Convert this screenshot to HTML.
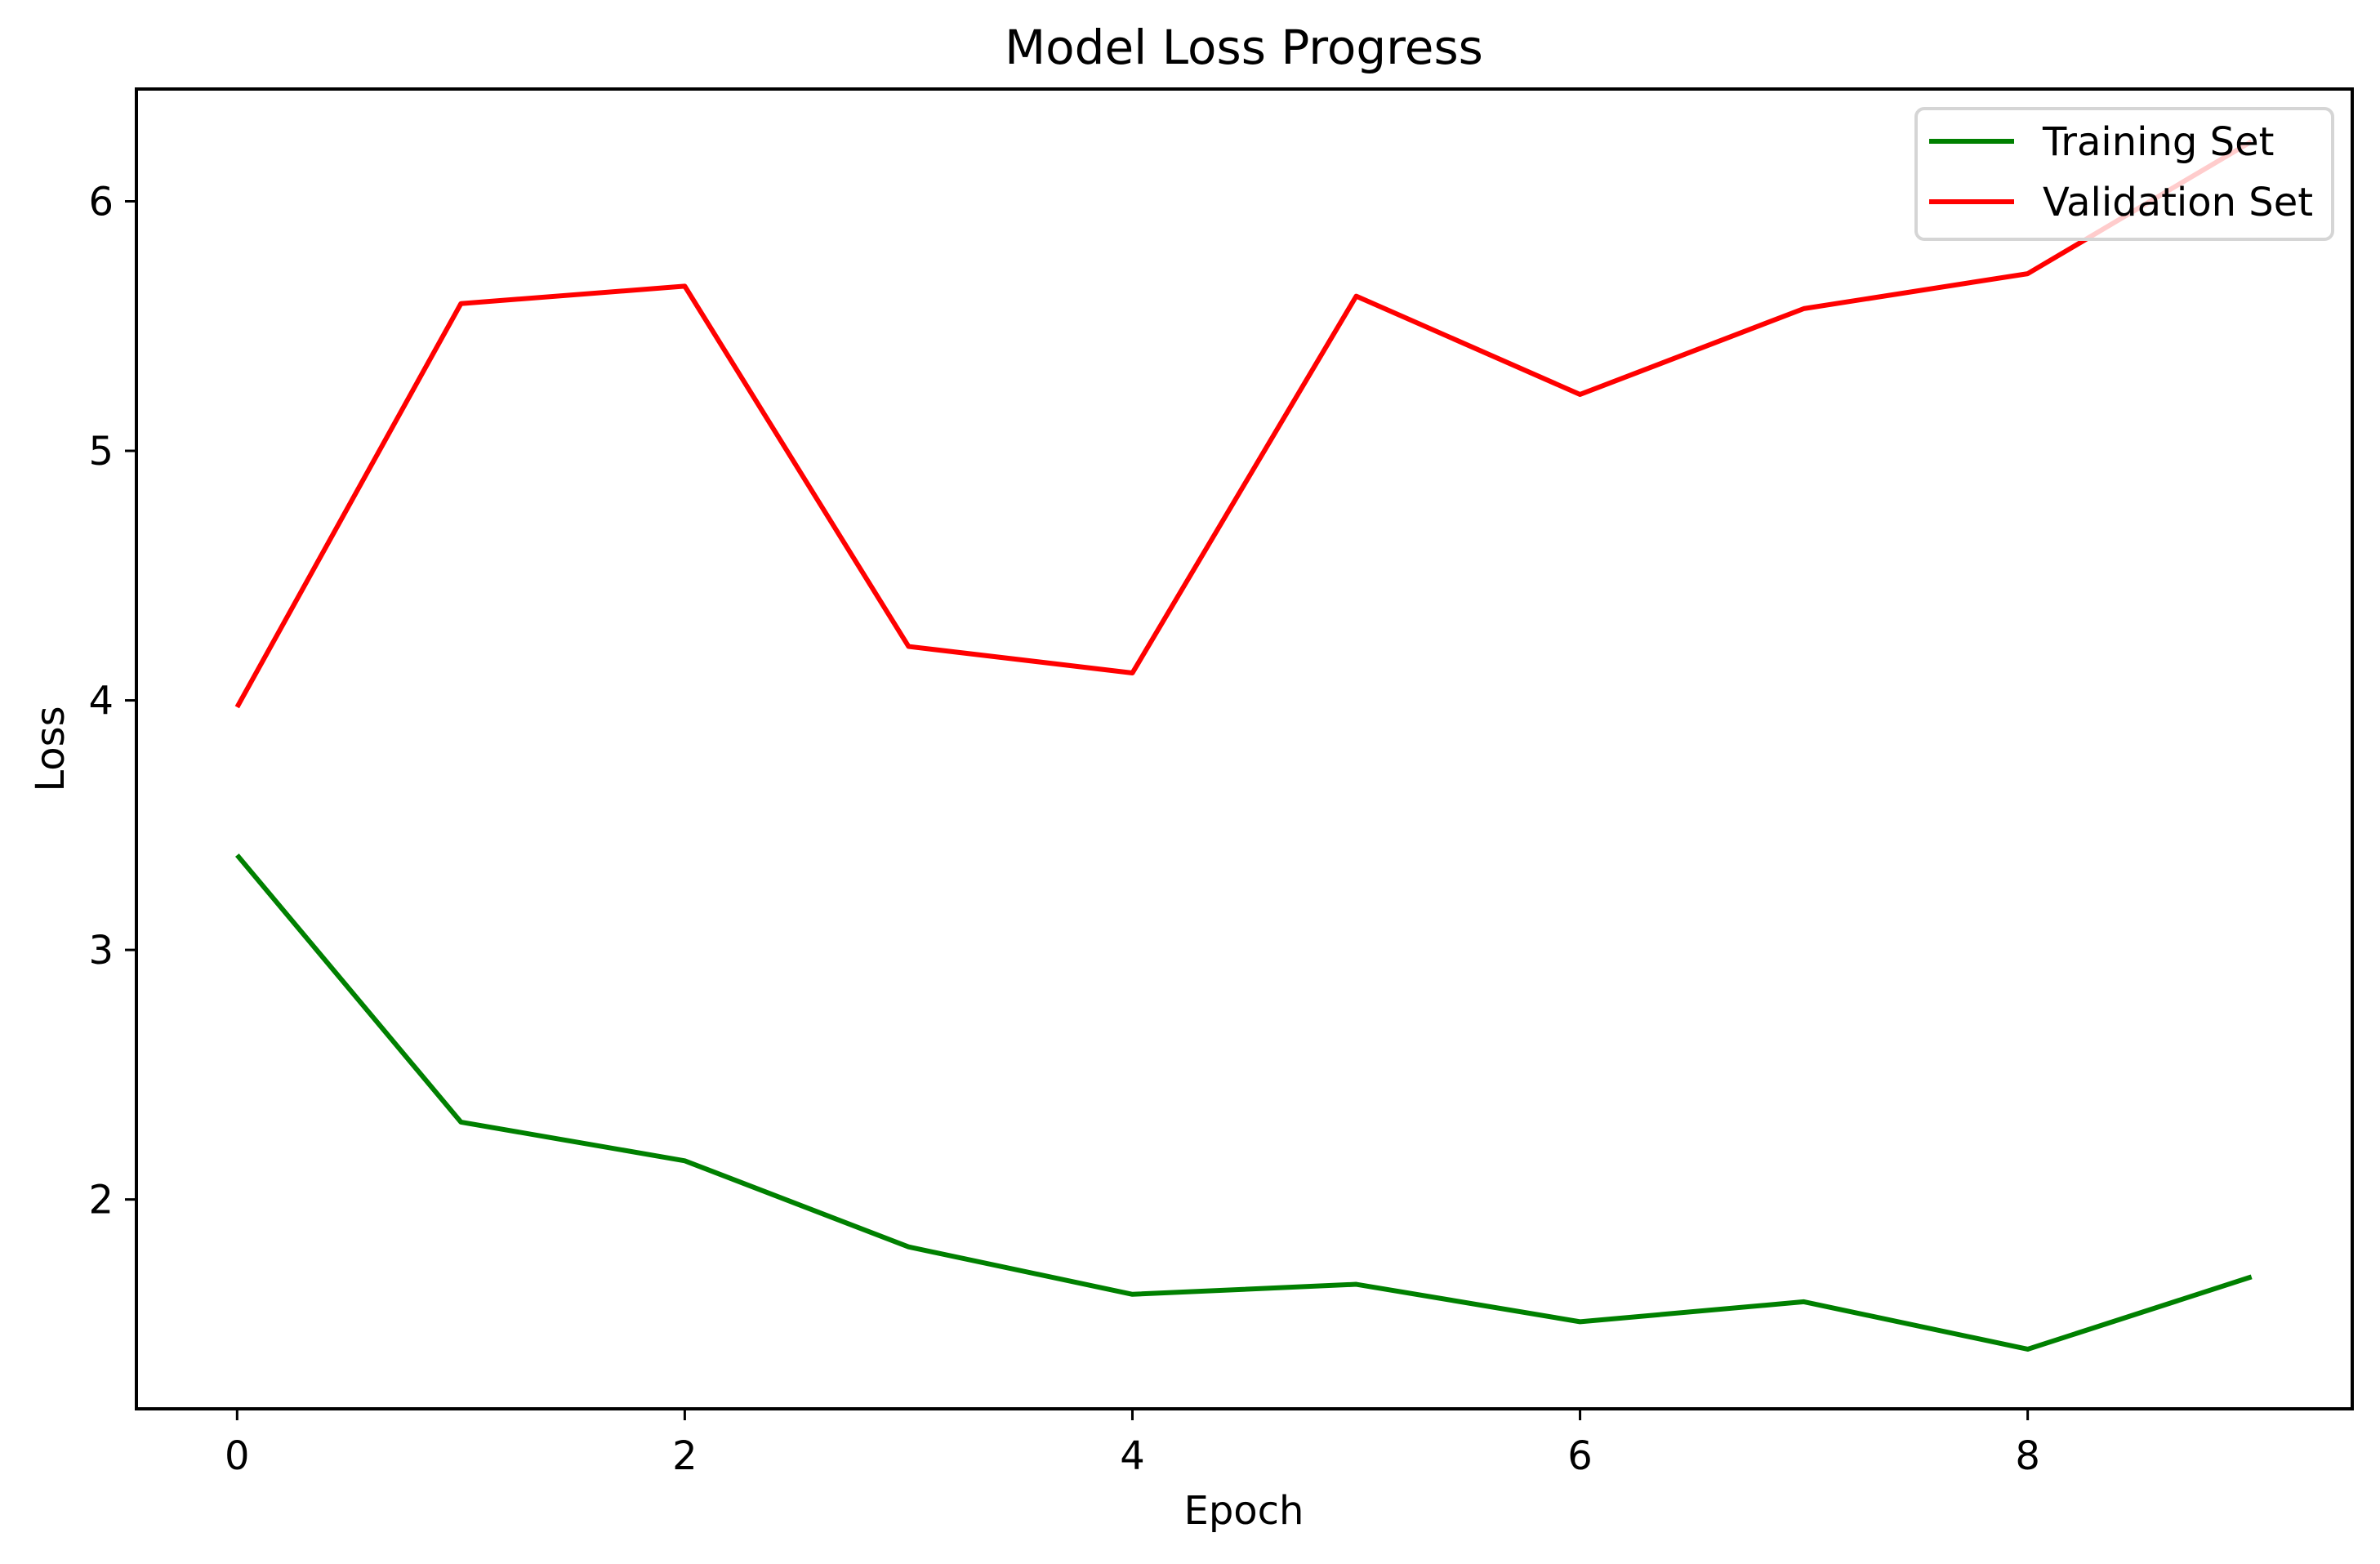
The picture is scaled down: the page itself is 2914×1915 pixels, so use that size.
<!DOCTYPE html>
<html><head><meta charset="utf-8"><style>
body{margin:0;background:#fff}
svg text{font-family:"DejaVu Sans","Liberation Sans",sans-serif;fill:#000}
</style></head><body>
<svg id="chart" width="2914" height="1910" viewBox="0 0 2914 1910" xmlns="http://www.w3.org/2000/svg">
<rect width="2914" height="1910" fill="#fff"/>
<text x="1523" y="78" font-size="58" text-anchor="middle">Model Loss Progress</text>
<text x="1523" y="1866" font-size="48" text-anchor="middle">Epoch</text>
<text x="0" y="0" font-size="48" text-anchor="middle" transform="translate(78,917) rotate(-90)">Loss</text>
<g id="plot"></g>
<rect x="167" y="109" width="2713" height="1616" fill="none" stroke="#000" stroke-width="4"/>
<g>
<rect x="2346" y="133" width="510" height="160" rx="10" fill="#fff" fill-opacity="0.8" stroke="#d5d5d5" stroke-width="4"/>
<line x1="2362" y1="173" x2="2466" y2="173" stroke="#008000" stroke-width="6"/>
<text x="2501" y="190" font-size="48">Training Set</text>
<line x1="2362" y1="247" x2="2466" y2="247" stroke="#ff0000" stroke-width="6"/>
<text x="2501" y="264" font-size="48">Validation Set</text>
</g>
</svg>
<script>
const epochs = [0,1,2,3,4,5,6,7,8,9];
const trainLoss = [3.38,2.31,2.155,1.81,1.62,1.66,1.51,1.59,1.40,1.69];
const valLoss = [3.973,5.59,5.66,4.216,4.11,5.62,5.226,5.57,5.71,6.24];
const xTicks = [0,2,4,6,8];
const yTicks = [2,3,4,5,6];

const L=167,R=2880,T=109,B=1725;
const xMin=-0.45,xMax=9.45,yMin=1.161,yMax=6.45;
const sx=v=>L+(v-xMin)/(xMax-xMin)*(R-L);
const sy=v=>B-(v-yMin)/(yMax-yMin)*(B-T);
const NS="http://www.w3.org/2000/svg";
const g=document.getElementById('plot');
function mk(tag,attrs){const e=document.createElementNS(NS,tag);for(const k in attrs)e.setAttribute(k,attrs[k]);g.appendChild(e);return e;}
xTicks.forEach(t=>{
  const l=mk('line',{x1:sx(t),x2:sx(t),y1:B,y2:B+14,stroke:'#000','stroke-width':3});
  
  
  const tx=mk('text',{x:sx(t),y:B+74,'font-size':48,'text-anchor':'middle'});
  tx.textContent=t;
  
  
});
yTicks.forEach(t=>{
  const l=mk('line',{x1:L-14,x2:L,y1:sy(t),y2:sy(t),stroke:'#000','stroke-width':3});
  
  
  const tx=mk('text',{x:L-28,y:sy(t)+17,'font-size':48,'text-anchor':'end'});
  tx.textContent=t;
  
  
});
function series(vals,color,name){
  const p=mk('polyline',{points:epochs.map((e,i)=>sx(e)+','+sy(vals[i])).join(' '),fill:'none',stroke:color,'stroke-width':6,'stroke-linejoin':'round'});
  
  
}
series(trainLoss,'#008000','training-loss-line');
series(valLoss,'#ff0000','validation-loss-line');
</script>
</body></html>
